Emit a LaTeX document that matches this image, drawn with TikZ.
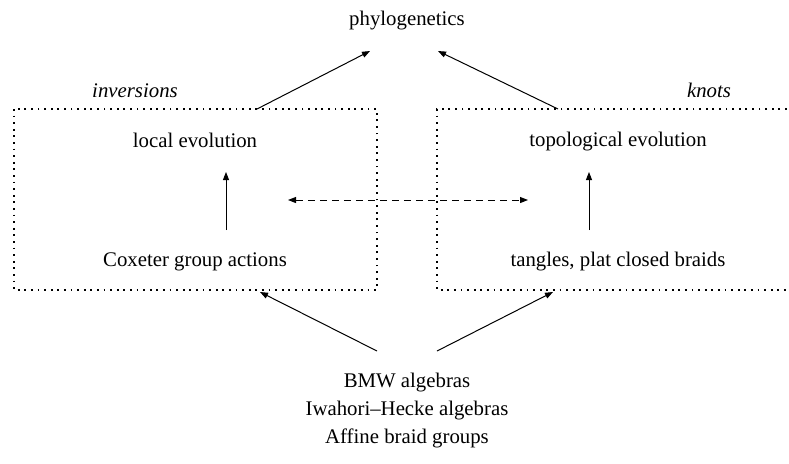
\documentclass[tikz,border=0pt]{standalone}
\usepackage{fontspec}
\setmainfont{Liberation Serif}
\usetikzlibrary{arrows.meta}
\begin{document}
\begin{tikzpicture}[x=0.5pt,y=-0.5pt,
  lbl/.style={anchor=base,inner sep=0pt,font=\fontsize{10.4}{12.5}\selectfont},
  arr/.style={line width=0.5pt,-{Triangle[length=4pt,width=3pt]}},
  darr/.style={line width=0.5pt,dash pattern=on 3.5pt off 2.5pt,{Triangle[length=4pt,width=3pt]}-{Triangle[length=4pt,width=3pt]}},
  dotbox/.style={line width=0.9pt,dash pattern=on 0.9pt off 2.4pt}]
\useasboundingbox (0,0) rectangle (789,463);
\clip (0,0) rectangle (789,463);
% boxes
\draw[dotbox] (14,109) rectangle (377,290);
\draw[dotbox] (800,109) -- (437,109) -- (437,290) -- (800,290);
% labels
\node[lbl] (phylo) at (407,25) {phylogenetics};
\node[lbl] (inv) at (135,97) {\itshape inversions};
\node[lbl] (knots) at (709,97) {\itshape knots};
\node[lbl] (local) at (195,147) {local evolution};
\node[lbl] (cox) at (195,266) {Coxeter group actions};
\node[lbl] (topo) at (618,146) {topological evolution};
\node[lbl] (tang) at (618,266) {tangles, plat closed braids};
\node[lbl] (bmw) at (407,387) {BMW algebras};
\node[lbl] (iwa) at (407,415) {Iwahori–Hecke algebras};
\node[lbl] (aff) at (407,443) {Affine braid groups};
% connector end points
\coordinate (lboxtop) at (257,109);
\coordinate (rboxtop) at (558,109);
\coordinate (phyL) at (370,51);
\coordinate (phyR) at (438,51);
\coordinate (lboxbot) at (260,292);
\coordinate (rboxbot) at (553,292);
\coordinate (bmwL) at (377,351);
\coordinate (bmwR) at (437,351);
\coordinate (coxTop) at (226,230);
\coordinate (localBot) at (226,172);
\coordinate (tangTop) at (589,230);
\coordinate (topoBot) at (589,172);
\coordinate (dL) at (288,200);
\coordinate (dR) at (528,200);
% arrows
\draw[arr] (lboxtop) -- (phyL);
\draw[arr] (rboxtop) -- (phyR);
\draw[arr] (bmwL) -- (lboxbot);
\draw[arr] (bmwR) -- (rboxbot);
\draw[arr] (coxTop) -- (localBot);
\draw[arr] (tangTop) -- (topoBot);
\draw[darr] (dL) -- (dR);
\end{tikzpicture}
\end{document}
